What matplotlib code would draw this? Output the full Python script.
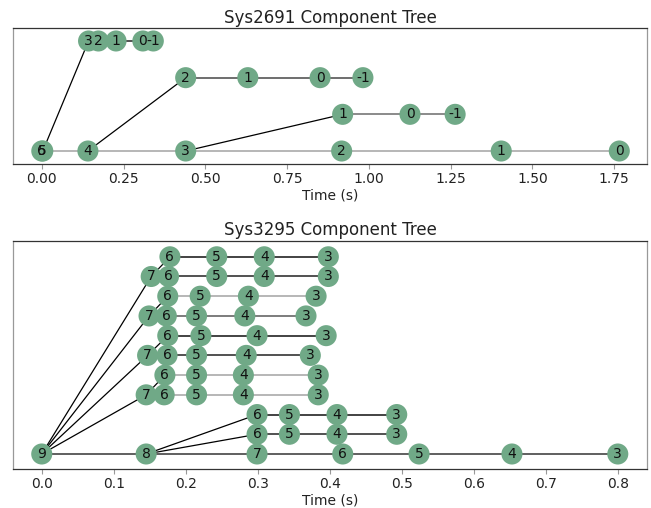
import matplotlib.pyplot as plt

# Sys2691: one list per component row (bottom row first)
sys2691_labels = [
    ['6', '5', '4', '3', '2', '1', '0'],
    ['1', '0', '-1'],
    ['2', '1', '0', '-1'],
    ['3', '2', '1', '0', '-1'],
]
sys2691_times = [
    [0.0, 0.003, 0.141, 0.440, 0.917, 1.405, 1.766],
    [0.920, 1.126, 1.264],
    [0.440, 0.630, 0.851, 0.982],
    [0.143, 0.173, 0.227, 0.309, 0.341],
]
# (row, node) each row branches from
sys2691_parents = [None, (0, 3), (0, 2), (0, 1)]

# Sys3295
sys3295_labels = [
    ['9', '8', '7', '6', '5', '4', '3'],
    ['6', '5', '4', '3'],
    ['6', '5', '4', '3'],
    ['7', '6', '5', '4', '3'],
    ['6', '5', '4', '3'],
    ['7', '6', '5', '4', '3'],
    ['6', '5', '4', '3'],
    ['7', '6', '5', '4', '3'],
    ['6', '5', '4', '3'],
    ['7', '6', '5', '4', '3'],
    ['6', '5', '4', '3'],
]
sys3295_times = [
    [0.0, 0.145, 0.299, 0.418, 0.524, 0.653, 0.800],
    [0.299, 0.344, 0.410, 0.493],
    [0.299, 0.344, 0.410, 0.493],
    [0.145, 0.170, 0.215, 0.280, 0.384],
    [0.171, 0.215, 0.280, 0.384],
    [0.147, 0.174, 0.215, 0.284, 0.373],
    [0.175, 0.221, 0.299, 0.395],
    [0.149, 0.173, 0.215, 0.282, 0.367],
    [0.175, 0.220, 0.287, 0.381],
    [0.152, 0.176, 0.243, 0.309, 0.398],
    [0.178, 0.243, 0.309, 0.398],
]
sys3295_parents = [None, (0, 1), (0, 1), (0, 0), (3, 0), (0, 0), (5, 0),
                   (0, 0), (7, 0), (0, 0), (9, 0)]

# row line shades
sys2691_greys = ['#aaaaaa', '#777777', '#555555', '#333333']
sys3295_greys = ['#444444', '#333333', '#222222', '#aaaaaa', '#aaaaaa', '#333333',
                 '#222222', '#666666', '#aaaaaa', '#333333', '#222222']

NODE_COLOR = '#70a987'


def draw_tree(ax, labels, times, parents, greys, title, xlim, ylim, xticks, fmt):
    for row, (labs, ts) in enumerate(zip(labels, times)):
        ys = [row] * len(ts)
        ax.plot(ts, ys, color=greys[row], lw=1.2, zorder=1)
        if parents[row] is not None:
            prow, pidx = parents[row]
            ax.plot([times[prow][pidx], ts[0]], [prow, row], color='black', lw=0.9, zorder=1)
        ax.scatter(ts, ys, s=230, color=NODE_COLOR, edgecolors='none', zorder=2)
        for t, lab in zip(ts, labs):
            ax.text(t, row, lab, ha='center', va='center', fontsize=10, color='#111111', zorder=3)

    ax.set_xlim(*xlim)
    ax.set_ylim(*ylim)
    ax.set_yticks([])
    ax.set_xticks(xticks)
    ax.set_xticklabels([fmt.format(x) for x in xticks])
    ax.tick_params(axis='x', colors='#999999', labelcolor='#222222', labelsize=10,
                   length=3.5, pad=2)
    for side, s in ax.spines.items():
        s.set_color('#333333' if side in ('top', 'bottom') else '#999999')
        s.set_linewidth(0.9)
    ax.set_title(title, fontsize=12, color='#222222', pad=4)
    ax.set_xlabel('Time (s)', fontsize=10, color='#222222', labelpad=2)


fig = plt.figure(figsize=(6.51, 5.08), dpi=100)
ax1 = fig.add_axes([0.020, 0.6766, 0.974, 0.2677])
ax2 = fig.add_axes([0.020, 0.0768, 0.974, 0.4488])

draw_tree(ax1, sys2691_labels, sys2691_times, sys2691_parents, sys2691_greys,
          'Sys2691 Component Tree', (-0.088, 1.851), (-0.362, 3.346),
          [0.0, 0.25, 0.5, 0.75, 1.0, 1.25, 1.5, 1.75], '{:.2f}')
draw_tree(ax2, sys3295_labels, sys3295_times, sys3295_parents, sys3295_greys,
          'Sys3295 Component Tree', (-0.0399, 0.8407), (-0.76, 10.80),
          [0.0, 0.1, 0.2, 0.3, 0.4, 0.5, 0.6, 0.7, 0.8], '{:.1f}')

fig.savefig('out.png', dpi=100)
